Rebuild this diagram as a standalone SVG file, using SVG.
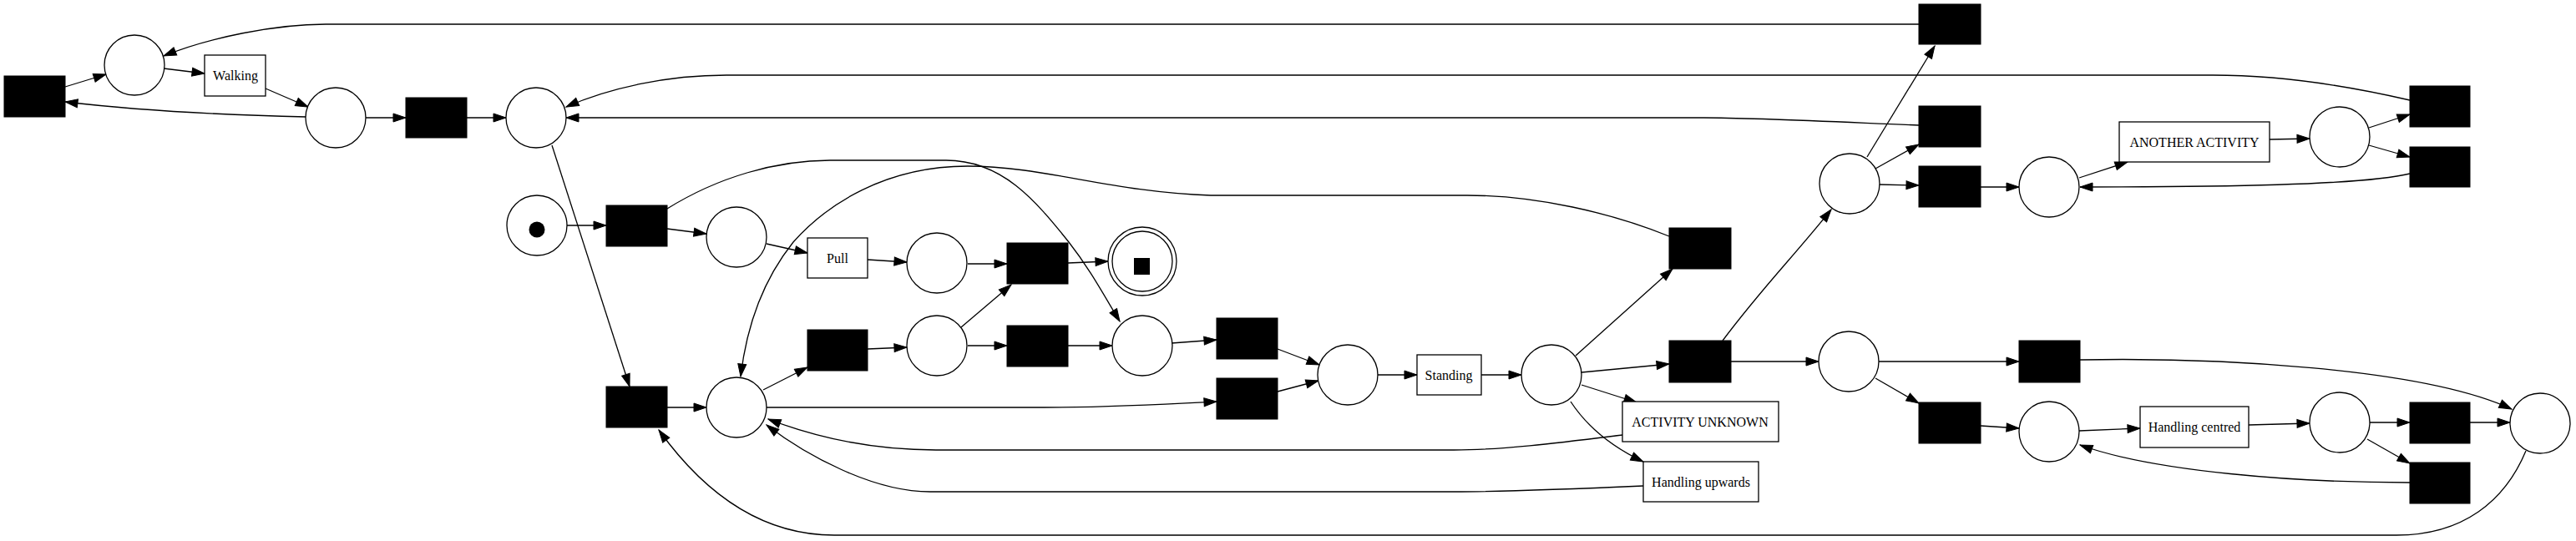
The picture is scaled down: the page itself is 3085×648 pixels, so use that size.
<svg xmlns="http://www.w3.org/2000/svg" width="3085" height="648" viewBox="0 0 3085 648">
<style>
.p{fill:#fff;stroke:#000;stroke-width:1.3}
.t{fill:#000;stroke:#000;stroke-width:1}
.l{fill:#fff;stroke:#000;stroke-width:1.3}
.tx{font-family:"Liberation Serif","Times New Roman",serif;font-size:16px;fill:#000;text-anchor:middle}
.e{fill:none;stroke:#000;stroke-width:1.3;marker-end:url(#ah)}
</style>
<defs>
<marker id="ah" markerUnits="userSpaceOnUse" markerWidth="16" markerHeight="10" refX="15" refY="5" orient="auto" overflow="visible">
<path d="M0,0 L15,5 L0,10 z" fill="#000" stroke="#000" stroke-width="1"/>
</marker>
</defs>
<rect width="3085" height="648" fill="#fff"/>
<g id="edges">
<path class="e" d="M78,104 L127,89"/>
<path class="e" d="M196,82 L245,88"/>
<path class="e" d="M318,106 L369,128"/>
<path class="e" d="M367,140 C280,138 180,134 78,122"/>
<path class="e" d="M438,141 L486,141"/>
<path class="e" d="M559,141 L606,141"/>
<path class="e" d="M2298,29 L390,29 C330,29 250,45 196,67"/>
<path class="e" d="M2886,120 C2800,100 2720,90 2650,90 L870,90 C800,90 730,105 678,128"/>
<path class="e" d="M2298,150 C2200,146 2100,141 2040,141 L678,141"/>
<path class="e" d="M661,174 L754,463"/>
<path class="e" d="M679,270 L726,270"/>
<path class="e" d="M799,274 L846,280"/>
<path class="e" d="M918,292 L967,303"/>
<path class="e" d="M1039,311 L1086,314"/>
<path class="e" d="M1159,316 L1206,316"/>
<path class="e" d="M1279,315 L1327,313"/>
<path class="e" d="M799,250 C860,212 930,192 994,192 L1133,192 C1200,192 1240,240 1280,290 C1305,322 1320,350 1341,385"/>
<path class="e" d="M1999,283 C1930,255 1840,234 1757,234 L1450,234 C1330,230 1250,199 1159,199 C1060,199 990,245 950,290 C910,340 893,400 887,451"/>
<path class="e" d="M799,488 L846,488"/>
<path class="e" d="M914,467 L967,440"/>
<path class="e" d="M1039,418 L1086,416"/>
<path class="e" d="M1151,392 L1211,341"/>
<path class="e" d="M1159,414 L1206,414"/>
<path class="e" d="M1279,414 L1332,414"/>
<path class="e" d="M1403,411 L1457,407"/>
<path class="e" d="M918,488 L1250,488 C1330,488 1400,484 1457,481"/>
<path class="e" d="M1530,418 L1580,437"/>
<path class="e" d="M1530,469 L1579,456"/>
<path class="e" d="M1943,521 C1870,530 1800,539 1741,539 L1121,539 C1050,539 980,525 920,502"/>
<path class="e" d="M1968,582 C1900,585 1800,589 1741,589 L1114,589 C1045,589 965,545 918,509"/>
<path class="e" d="M3025,540 C3000,600 2950,641 2870,641 L999,641 C920,641 850,600 789,515"/>
<path class="e" d="M1649,449 L1697,449"/>
<path class="e" d="M1774,449 L1822,449"/>
<path class="e" d="M1887,426 L2003,322"/>
<path class="e" d="M1894,446 L1999,436"/>
<path class="e" d="M1894,461 L1960,482"/>
<path class="e" d="M1881,481 C1900,510 1930,535 1968,553"/>
<path class="e" d="M2073,433 L2178,433"/>
<path class="e" d="M2063,408 C2110,345 2150,305 2193,251"/>
<path class="e" d="M2250,433 L2418,433"/>
<path class="e" d="M2246,453 L2298,483"/>
<path class="e" d="M2236,188 L2317,55"/>
<path class="e" d="M2246,202 L2298,173"/>
<path class="e" d="M2250,221 L2298,222"/>
<path class="e" d="M2372,224 L2418,224"/>
<path class="e" d="M2490,213 L2548,194"/>
<path class="e" d="M2718,167 L2766,166"/>
<path class="e" d="M2837,153 L2886,137"/>
<path class="e" d="M2837,174 L2886,188"/>
<path class="e" d="M2886,208 C2830,222 2650,224 2491,224"/>
<path class="e" d="M2491,431 C2650,428 2900,440 3008,490"/>
<path class="e" d="M2372,510 L2418,513"/>
<path class="e" d="M2490,516 L2563,513"/>
<path class="e" d="M2693,509 L2766,507"/>
<path class="e" d="M2838,506 L2886,506"/>
<path class="e" d="M2958,506 L3006,506"/>
<path class="e" d="M2835,526 L2886,555"/>
<path class="e" d="M2886,578 C2750,578 2580,565 2491,533"/>
</g>
<g id="P0"><ellipse class="p" cx="643" cy="270" rx="36" ry="36"/><circle cx="643" cy="275" r="9.5" fill="#000"/></g>
<g id="P1"><ellipse class="p" cx="161" cy="78" rx="36" ry="36"/></g>
<g id="P2"><ellipse class="p" cx="402" cy="141" rx="36" ry="36"/></g>
<g id="P3"><ellipse class="p" cx="642" cy="141" rx="36" ry="36"/></g>
<g id="P5"><ellipse class="p" cx="882" cy="284" rx="36" ry="36"/></g>
<g id="P6"><ellipse class="p" cx="1122" cy="315" rx="36" ry="36"/></g>
<g id="Pfinal"><ellipse class="p" cx="1368" cy="313" rx="41" ry="41"/><ellipse class="p" cx="1368" cy="313" rx="36" ry="36"/><rect x="1358" y="309" width="19" height="20" fill="#000"/></g>
<g id="P4"><ellipse class="p" cx="882" cy="488" rx="36" ry="36"/></g>
<g id="P8"><ellipse class="p" cx="1122" cy="414" rx="36" ry="36"/></g>
<g id="P7"><ellipse class="p" cx="1368" cy="414" rx="36" ry="36"/></g>
<g id="P9"><ellipse class="p" cx="1614" cy="449" rx="36" ry="36"/></g>
<g id="P10"><ellipse class="p" cx="1858" cy="449" rx="36" ry="36"/></g>
<g id="P11"><ellipse class="p" cx="2214" cy="433" rx="36" ry="36"/></g>
<g id="P12"><ellipse class="p" cx="2215" cy="220" rx="36" ry="36"/></g>
<g id="P13"><ellipse class="p" cx="2454" cy="224" rx="36" ry="36"/></g>
<g id="P14"><ellipse class="p" cx="2802" cy="164" rx="36" ry="36"/></g>
<g id="P15"><ellipse class="p" cx="2454" cy="517" rx="36" ry="36"/></g>
<g id="P16"><ellipse class="p" cx="2802" cy="506" rx="36" ry="36"/></g>
<g id="P17"><ellipse class="p" cx="3042" cy="507" rx="36" ry="36"/></g>
<g id="T1"><rect class="t" x="5" y="91" width="73" height="49"/></g>
<g id="T2"><rect class="t" x="486" y="117" width="73" height="48"/></g>
<g id="T3"><rect class="t" x="726" y="246" width="73" height="49"/></g>
<g id="T4"><rect class="t" x="726" y="463" width="73" height="49"/></g>
<g id="T5"><rect class="t" x="1206" y="291" width="73" height="49"/></g>
<g id="T6"><rect class="t" x="967" y="395" width="72" height="49"/></g>
<g id="T7"><rect class="t" x="1206" y="390" width="73" height="49"/></g>
<g id="T8"><rect class="t" x="1457" y="381" width="73" height="49"/></g>
<g id="T9"><rect class="t" x="1457" y="453" width="73" height="49"/></g>
<g id="T10"><rect class="t" x="1999" y="273" width="74" height="49"/></g>
<g id="T11"><rect class="t" x="1999" y="408" width="74" height="50"/></g>
<g id="T12"><rect class="t" x="2298" y="5" width="74" height="48"/></g>
<g id="T13"><rect class="t" x="2298" y="127" width="74" height="49"/></g>
<g id="T14"><rect class="t" x="2298" y="199" width="74" height="49"/></g>
<g id="T15"><rect class="t" x="2418" y="408" width="73" height="50"/></g>
<g id="T16"><rect class="t" x="2298" y="482" width="74" height="49"/></g>
<g id="T17"><rect class="t" x="2886" y="103" width="72" height="49"/></g>
<g id="T18"><rect class="t" x="2886" y="176" width="72" height="48"/></g>
<g id="T19"><rect class="t" x="2886" y="482" width="72" height="49"/></g>
<g id="T20"><rect class="t" x="2886" y="554" width="72" height="49"/></g>
<g id="Walking"><rect class="l" x="245" y="66" width="73" height="49"/><text class="tx" x="282" y="96">Walking</text></g>
<g id="Pull"><rect class="l" x="967" y="285" width="72" height="48"/><text class="tx" x="1003" y="315">Pull</text></g>
<g id="Standing"><rect class="l" x="1697" y="425" width="77" height="48"/><text class="tx" x="1735" y="455">Standing</text></g>
<g id="ActivityUnknown"><rect class="l" x="1943" y="481" width="187" height="48"/><text class="tx" x="2036" y="511">ACTIVITY UNKNOWN</text></g>
<g id="HandlingUpwards"><rect class="l" x="1968" y="553" width="138" height="48"/><text class="tx" x="2037" y="583">Handling upwards</text></g>
<g id="AnotherActivity"><rect class="l" x="2538" y="146" width="180" height="48"/><text class="tx" x="2628" y="176">ANOTHER ACTIVITY</text></g>
<g id="HandlingCentred"><rect class="l" x="2563" y="487" width="130" height="49"/><text class="tx" x="2628" y="517">Handling centred</text></g>
</svg>
